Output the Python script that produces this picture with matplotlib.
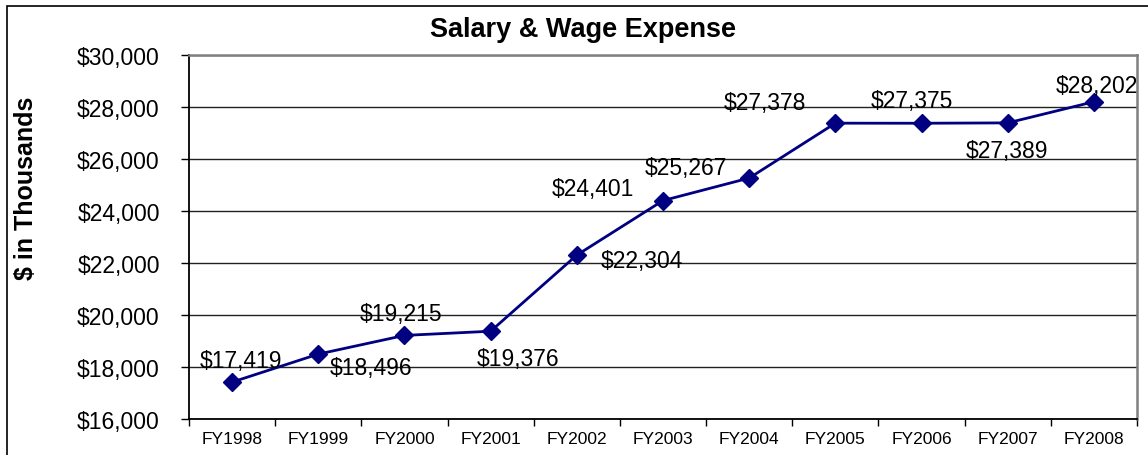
import matplotlib
matplotlib.use("Agg")
import matplotlib.pyplot as plt
from matplotlib.patches import Rectangle
from matplotlib.ticker import FuncFormatter, MultipleLocator

plt.rcParams['font.family'] = ['Liberation Sans', 'DejaVu Sans']

categories = ["FY1998", "FY1999", "FY2000", "FY2001", "FY2002", "FY2003",
              "FY2004", "FY2005", "FY2006", "FY2007", "FY2008"]
values = [17419, 18496, 19215, 19376, 22304, 24401, 25267, 27378, 27375, 27389, 28202]
title = "Salary & Wage Expense"
ylabel = "$ in Thousands"

# label offsets in pixels (dx, dy) relative to each point (positive dy = up)
label_offsets = [(9, 22), (53, -13), (-3, 22), (27, -27), (65, -5), (-70, 12),
                 (-63, 11), (-70, 21), (-10, 23), (-1, -28), (3, 16)]

W, H = 1148, 456
fig = plt.figure(figsize=(W / 100, H / 100), dpi=100)
ax = fig.add_axes([189 / W, (H - 420) / H, (1137 - 189) / W, (420 - 56) / H])

x = list(range(len(categories)))
ax.plot(x, values, color='#000080', lw=2.0, marker='D', markersize=9.5,
        markerfacecolor='#000080', markeredgecolor='#000080', zorder=3)

for xi, v, (dx, dy) in zip(x, values, label_offsets):
    ax.annotate(f"${v:,}", (xi, v), xytext=(dx, dy), textcoords='offset pixels',
                ha='center', va='center', fontsize=16.5, color='black', zorder=4)

ax.set_xlim(-0.5, len(categories) - 0.5)
ax.set_ylim(16000, 30000)
ax.yaxis.set_major_locator(MultipleLocator(2000))
ax.yaxis.set_major_formatter(FuncFormatter(lambda v, p: f"${int(v):,}"))
ax.set_xticks(x)
ax.set_xticklabels(categories, fontsize=12.5)
ax.set_xticks([i - 0.5 for i in range(len(categories) + 1)], minor=True)
ax.tick_params(axis='x', which='major', length=0, pad=9)
ax.tick_params(axis='x', which='minor', length=5, width=1, color='black', direction='out')
ax.tick_params(axis='y', length=6, width=1, color='black', labelsize=16.5, pad=15)

ax.grid(axis='y', color='#222222', lw=1.0)
ax.set_axisbelow(True)
for s in ['top', 'right']:
    ax.spines[s].set_color('#808080')
    ax.spines[s].set_linewidth(1.8)
for s in ['left', 'bottom']:
    ax.spines[s].set_color('black')
    ax.spines[s].set_linewidth(1.3)

fig.text(583 / W, 1 - 30 / H, title, ha='center', va='center',
         fontsize=19.5, fontweight='bold')
fig.text(26 / W, 1 - 188 / H, ylabel, ha='center', va='center', rotation=90,
         fontsize=18, fontweight='bold')

fig.patches.append(Rectangle((7 / W, -0.1), 1.2, 1 - 7 / H + 0.1,
                             transform=fig.transFigure, fill=False,
                             edgecolor='black', lw=1.2, clip_on=False))

fig.savefig("out.png", dpi=100)
